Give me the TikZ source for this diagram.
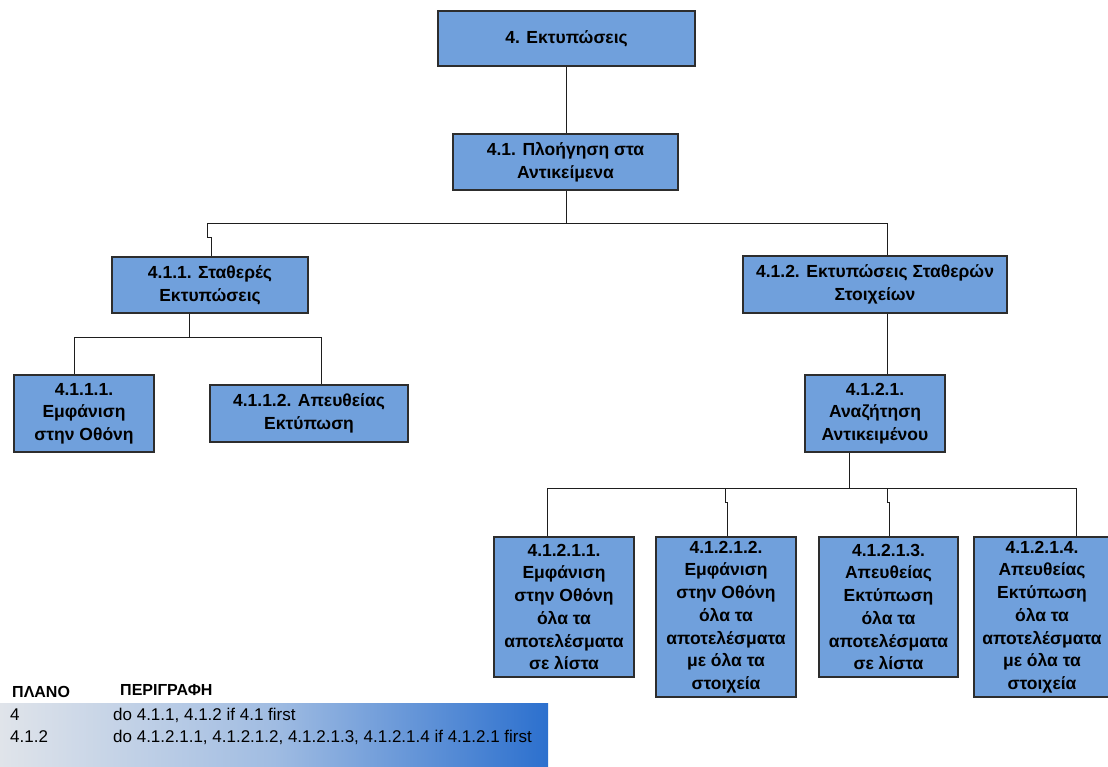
\documentclass[tikz,border=0pt]{standalone}
\usepackage{fontspec}
\setmainfont{Liberation Sans}
\usetikzlibrary{calc}
\definecolor{boxfill}{RGB}{112,160,220}
\definecolor{boxline}{RGB}{45,45,45}
\definecolor{connline}{RGB}{30,30,30}
\definecolor{gradL}{RGB}{224,228,234}
\definecolor{gradM}{RGB}{160,188,226}
\definecolor{gradR}{RGB}{44,112,206}
\begin{document}
\begin{tikzpicture}[x=1pt,y=-1pt,
  box/.style={draw=boxline, line width=1.2pt, fill=boxfill, align=center, inner sep=0pt,
    font=\bfseries\fontsize{17.5}{22.7}\selectfont},
  conn/.style={draw=connline, line width=1pt},
  legtext/.style={anchor=base west, inner sep=0pt, font=\fontsize{17}{20}\selectfont},
  leghead/.style={anchor=base west, inner sep=0pt, font=\bfseries\fontsize{16}{19}\selectfont}]
\useasboundingbox (0,0) rectangle (1108,767);
\fill[white] (0,0) rectangle (1108,767);

% boxes
\node[box, minimum width=257pt, minimum height=55pt] (n4) at (566.5,38.5) {4. Εκτυπώσεις};
\node[box, minimum width=225pt, minimum height=56pt] (n41) at (565.5,162) {4.1. Πλοήγηση στα\\Αντικείμενα};
\node[box, minimum width=196pt, minimum height=56pt] (n411) at (210,285) {4.1.1. Σταθερές\\Εκτυπώσεις};
\node[box, minimum width=264pt, minimum height=57pt] (n412) at (875,284.5) {4.1.2. Εκτυπώσεις Σταθερών\\Στοιχείων};
\node[box, minimum width=140pt, minimum height=77pt] (n4111) at (84,413.5) {4.1.1.1.\\Εμφάνιση\\στην Οθόνη};
\node[box, minimum width=198pt, minimum height=57pt] (n4112) at (309,413.5) {4.1.1.2. Απευθείας\\Εκτύπωση};
\node[box, minimum width=140pt, minimum height=77pt] (n4121) at (875,413.5) {4.1.2.1.\\Αναζήτηση\\Αντικειμένου};
\node[box, minimum width=140pt, minimum height=140pt] (b1) at (564,607) {4.1.2.1.1.\\Εμφάνιση\\στην Οθόνη\\όλα τα\\αποτελέσματα\\σε λίστα};
\node[box, minimum width=140pt, minimum height=160pt] (b2) at (726,617) {4.1.2.1.2.\\Εμφάνιση\\στην Οθόνη\\όλα τα\\αποτελέσματα\\με όλα τα\\στοιχεία};
\node[box, minimum width=139pt, minimum height=140pt] (b3) at (888.5,607) {4.1.2.1.3.\\Απευθείας\\Εκτύπωση\\όλα τα\\αποτελέσματα\\σε λίστα};
\node[box, minimum width=136pt, minimum height=160pt] (b4) at (1042,617) {4.1.2.1.4.\\Απευθείας\\Εκτύπωση\\όλα τα\\αποτελέσματα\\με όλα τα\\στοιχεία};

% junction coordinates
\coordinate (busA) at (566,224);
\coordinate (busB) at (189,337);
\coordinate (busC) at (849,488);

% connectors
\draw[conn] (n4.south -| busA) -- (n41.north -| busA);
\draw[conn] (n41.south -| busA) -- (busA);
\draw[conn] (busA) -- (207,224) -- (207,238) -- (211,238) -- (211,0 |- n411.north);
\draw[conn] (busA) -- (887,224) -- (887,0 |- n412.north);

\draw[conn] (n411.south -| busB) -- (busB);
\draw[conn] (busB) -- (74,337) -- (74,0 |- n4111.north);
\draw[conn] (busB) -- (321,337) -- (321,0 |- n4112.north);

\draw[conn] (887,0 |- n412.south) -- (887,0 |- n4121.north);

\draw[conn] (n4121.south -| busC) -- (busC);
\draw[conn] (busC) -- (547,488) -- (547,0 |- b1.north);
\draw[conn] (busC) -- (725,488) -- (725,502) -- (727,502) -- (727,0 |- b2.north);
\draw[conn] (busC) -- (887,488) -- (887,502) -- (889,502) -- (889,0 |- b3.north);
\draw[conn] (busC) -- (1076,488) -- (1076,0 |- b4.north);

% legend
\shade[left color=gradL, right color=gradR, middle color=gradM] (0,703) rectangle (548,767);
\node[leghead] (h1) at (12,697) {ΠΛΑΝΟ};
\node[leghead] (h2) at (120,695) {ΠΕΡΙΓΡΑΦΗ};
\node[legtext] (r1a) at (10,720) {4};
\node[legtext] (r1b) at (113,720) {do 4.1.1, 4.1.2 if 4.1 first};
\node[legtext] (r2a) at (10,742) {4.1.2};
\node[legtext] (r2b) at (113,742) {do 4.1.2.1.1, 4.1.2.1.2, 4.1.2.1.3, 4.1.2.1.4 if 4.1.2.1 first};
\end{tikzpicture}
\end{document}
